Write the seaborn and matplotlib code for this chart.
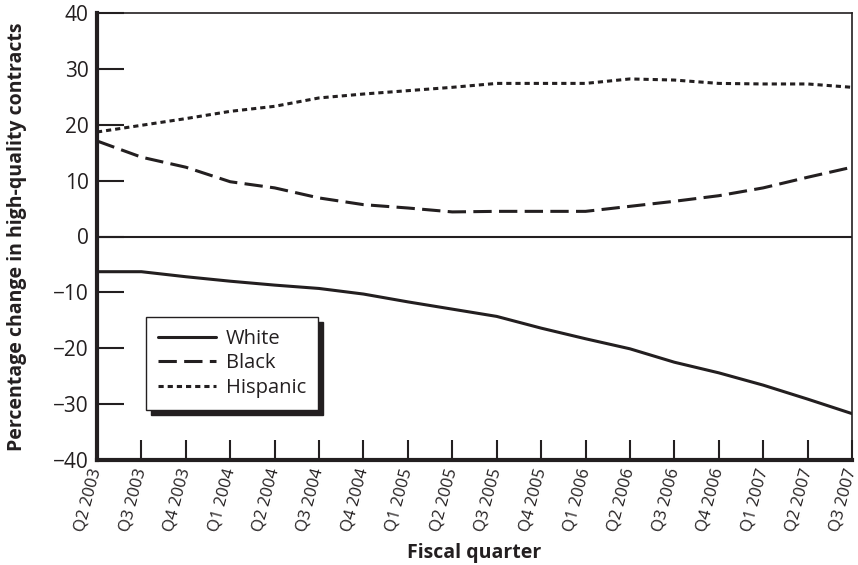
import matplotlib
matplotlib.use("Agg")
import matplotlib.pyplot as plt
import seaborn as sns
import pandas as pd

quarters = ["Q2 2003", "Q3 2003", "Q4 2003", "Q1 2004", "Q2 2004", "Q3 2004",
            "Q4 2004", "Q1 2005", "Q2 2005", "Q3 2005", "Q4 2005", "Q1 2006",
            "Q2 2006", "Q3 2006", "Q4 2006", "Q1 2007", "Q2 2007", "Q3 2007"]
white = [-6.3, -6.3, -7.2, -8.0, -8.7, -9.3, -10.3, -11.7, -13.0, -14.3,
         -16.4, -18.3, -20.1, -22.5, -24.4, -26.6, -29.1, -31.7]
black = [17.1, 14.2, 12.4, 9.8, 8.7, 6.9, 5.7, 5.1, 4.4, 4.5, 4.5, 4.5,
         5.4, 6.3, 7.3, 8.7, 10.6, 12.4]
hispanic = [18.7, 19.9, 21.1, 22.4, 23.3, 24.8, 25.5, 26.1, 26.7, 27.4,
            27.4, 27.4, 28.2, 28.0, 27.4, 27.3, 27.3, 26.7]
groups = ["White", "Black", "Hispanic"]
y_ticks = [-40, -30, -20, -10, 0, 10, 20, 30, 40]

INK = "#231f20"

sns.set_theme(style="white")
plt.rcParams["font.family"] = ["Open Sans", "DejaVu Sans"]

rows = []
for g, vals in zip(groups, [white, black, hispanic]):
    for i, v in enumerate(vals):
        rows.append({"idx": i, "value": v, "Group": g})
df = pd.DataFrame(rows)

fig = plt.figure(figsize=(8.58, 5.65), dpi=100)
ax = fig.add_axes([97 / 858, 1 - 460 / 565, 755 / 858, 447 / 565])

sns.lineplot(data=df, x="idx", y="value", style="Group", style_order=groups,
             dashes={"White": "", "Black": (6, 2.4), "Hispanic": (1.7, 1.3)},
             color=INK, linewidth=2.2, ax=ax, legend=False)

ax.axhline(0, color=INK, linewidth=1.5, zorder=1)

ax.set_xlim(0, len(quarters) - 1)
ax.set_ylim(-40, 40)
ax.set_yticks(y_ticks)
ax.set_yticklabels([str(t).replace("-", "\u2212") for t in y_ticks])
ax.set_xticks(range(len(quarters)))
ax.set_xticklabels(quarters, rotation=75, ha="right", va="center",
                   rotation_mode="anchor", fontsize=12, color=INK)

for s in ["left", "bottom"]:
    ax.spines[s].set_linewidth(3.0)
    ax.spines[s].set_color(INK)
for s in ["top", "right"]:
    ax.spines[s].set_linewidth(1.2)
    ax.spines[s].set_color(INK)

ax.tick_params(axis="y", direction="in", length=19.5, width=1.5, colors=INK,
               labelsize=15, pad=6, left=True)
ax.tick_params(axis="x", direction="in", length=14.5, width=1.5, colors=INK,
               pad=6, bottom=True)

ax.set_xlabel("Fiscal quarter", fontsize=14, fontweight="bold", color=INK)
ax.set_ylabel("Percentage change in high-quality contracts", fontsize=14,
              fontweight="bold", color=INK)
ax.xaxis.set_label_coords(0.5, -0.186)
ax.yaxis.set_label_coords(-0.093, 0.5)

handles = [
    plt.Line2D([], [], color=INK, linewidth=2.2, linestyle="-"),
    plt.Line2D([], [], color=INK, linewidth=2.2, linestyle=(0, (6, 2.4))),
    plt.Line2D([], [], color=INK, linewidth=2.2, linestyle=(0, (1.7, 1.3))),
]
leg = ax.legend(handles, groups, loc="upper left", bbox_to_anchor=(0.065, 0.32),
                borderaxespad=0, fontsize=14.5, handlelength=2.85,
                handletextpad=0.5, labelspacing=0.22, borderpad=0.6,
                fancybox=False, frameon=True,
                shadow={"color": INK, "alpha": 1, "ox": 3.5, "oy": -3.5})
frame = leg.get_frame()
frame.set_edgecolor(INK)
frame.set_linewidth(1.0)
frame.set_facecolor("white")
frame.set_alpha(1)
for t in leg.get_texts():
    t.set_color(INK)

fig.savefig("out.png", dpi=100)
